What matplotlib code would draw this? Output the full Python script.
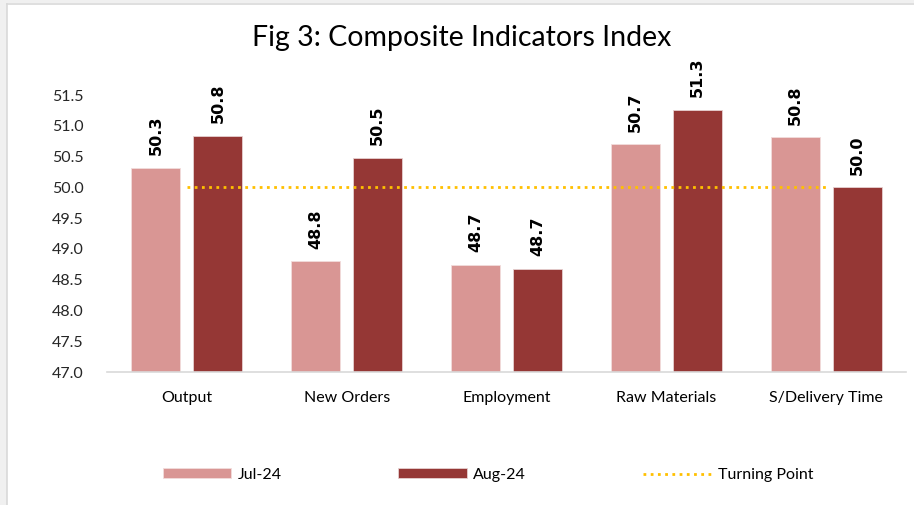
import matplotlib
matplotlib.use("Agg")
import matplotlib.pyplot as plt
from matplotlib.patches import Rectangle
from matplotlib.lines import Line2D
import numpy as np

plt.rcParams['font.family'] = ['Lato', 'DejaVu Sans']

categories = ["Output", "New Orders", "Employment", "Raw Materials", "S/Delivery Time"]
jul_24 = [50.32, 48.80, 48.74, 50.70, 50.81]
aug_24 = [50.84, 50.48, 48.68, 51.26, 50.00]
turning_point = 50.0
yticks = [47.0, 47.5, 48.0, 48.5, 49.0, 49.5, 50.0, 50.5, 51.0, 51.5]

c_jul = "#D99694"
c_aug = "#953735"
c_tp = "#FFC000"

fig = plt.figure(figsize=(9.14, 5.05), dpi=100)
fig.patch.set_facecolor("white")
# outer frame (screenshot border)
fig.patches.append(Rectangle((0, 0), 7/914, 1, transform=fig.transFigure,
                             facecolor="#F0F0F0", edgecolor="none", zorder=0))
fig.patches.append(Rectangle((0, 1-3/505), 1, 3/505, transform=fig.transFigure,
                             facecolor="#F0F0F0", edgecolor="none", zorder=0))
fig.add_artist(Line2D([7.5/914, 7.5/914], [0, 1-3.5/505], transform=fig.transFigure,
                      color="#D9D9D9", lw=1.2))
fig.add_artist(Line2D([7.5/914, 1], [1-3.5/505, 1-3.5/505], transform=fig.transFigure,
                      color="#D9D9D9", lw=1.2))

ax = fig.add_axes([107/914, 1-372/505, 799/914, 277/505])
x = np.arange(len(categories))
w = 0.306
off = 0.194
b1 = ax.bar(x - off, jul_24, width=w, color=c_jul, edgecolor="#F2DCDB", linewidth=0.6,
            label="Jul-24", zorder=2)
b2 = ax.bar(x + off, aug_24, width=w, color=c_aug, edgecolor="#E6D0D0", linewidth=0.6,
            label="Aug-24", zorder=2)
tp_line, = ax.plot([x[0], x[-1]], [turning_point, turning_point], color=c_tp, lw=2,
                   linestyle=(0, (1, 1.6)), label="Turning Point", zorder=3)

for bars, vals in ((b1, jul_24), (b2, aug_24)):
    for rect, v in zip(bars, vals):
        ax.annotate(f"{v:.1f}", (rect.get_x() + rect.get_width()/2, v),
                    xytext=(0, 9), textcoords="offset points",
                    rotation=90, ha="center", va="bottom",
                    fontsize=11.5, fontweight="bold", color="black",
                    family=['DejaVu Sans'], annotation_clip=False)

ax.set_xlim(-0.5, len(categories) - 0.5)
ax.set_ylim(47.0, 51.5)
ax.set_yticks(yticks)
ax.set_yticklabels([f"{t:.1f}" for t in yticks], fontsize=11.5, color="#262626")
ax.set_xticks(x)
ax.set_xticklabels(categories, fontsize=11.5, color="black")
ax.tick_params(axis="both", length=0)
ax.tick_params(axis="x", pad=14)
ax.tick_params(axis="y", pad=17)
for s in ("left", "right", "top"):
    ax.spines[s].set_visible(False)
ax.spines["bottom"].set_color("#D9D9D9")
ax.spines["bottom"].set_linewidth(1.2)

fig.text(462/914, 1-38/505, "Fig 3: Composite Indicators Index", ha="center", va="center",
         fontsize=20.5, color="black")

leg = fig.legend(handles=[b1, b2, tp_line], labels=["Jul-24", "Aug-24", "Turning Point"],
                 loc="center", bbox_to_anchor=(488/914, 1-475/505), ncol=3, frameon=False,
                 fontsize=11.5, handlelength=4.3, handleheight=0.6, columnspacing=7.3,
                 handletextpad=0.4)

fig.savefig("out.png", dpi=100)
